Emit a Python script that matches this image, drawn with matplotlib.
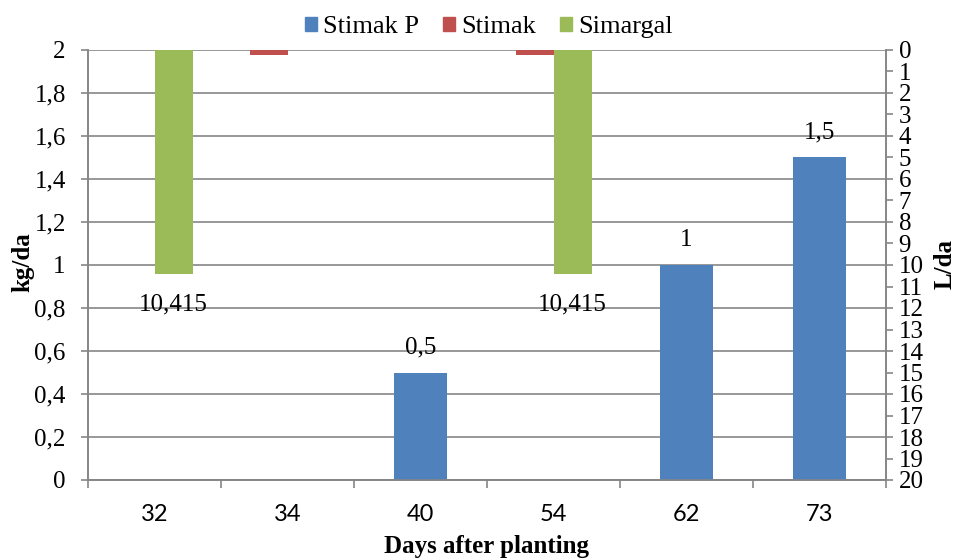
import numpy as np
import matplotlib
matplotlib.use("Agg")
import matplotlib.pyplot as plt
from matplotlib.patches import Patch

# data
days = ["32", "34", "40", "54", "62", "73"]
stimak_p = [0, 0, 0.5, 0, 1, 1.5]          # kg/da, left axis
stimak = [0, 0.25, 0, 0.25, 0, 0]          # L/da, right axis (inverted)
simargal = [10.415, 0, 0, 10.415, 0, 0]    # L/da, right axis (inverted)

stimak_p_labels = ["", "", "0,5", "", "1", "1,5"]
simargal_labels = ["10,415", "", "", "10,415", "", ""]

left_ticks = [0, 0.2, 0.4, 0.6, 0.8, 1, 1.2, 1.4, 1.6, 1.8, 2]
left_tick_labels = ["0", "0,2", "0,4", "0,6", "0,8", "1", "1,2", "1,4", "1,6", "1,8", "2"]
right_ticks = list(range(0, 21))

blue = "#4F81BD"
red = "#C0504D"
green = "#9BBB59"
grey = "#868686"

plt.rcParams["font.family"] = ["Liberation Serif", "DejaVu Serif"]
plt.rcParams["font.size"] = 18

W, H = 957, 559
fig = plt.figure(figsize=(W / 100, H / 100), dpi=100)
ax = fig.add_axes([88 / W, 1 - 480 / H, 798 / W, 430 / H])
ax2 = ax.twinx()

x = np.arange(len(days))

# primary axis: one series, gap width 150%
w1 = 1 / 2.5
b_p = ax.bar(x, stimak_p, width=w1, color=blue, zorder=3)

# secondary axis: two clustered series
w2 = 1 / 3.5
b_s = ax2.bar(x - w2 / 2, stimak, width=w2, color=red, zorder=3)
b_g = ax2.bar(x + w2 / 2, simargal, width=w2, color=green, zorder=3)

ax.set_xlim(-0.5, len(days) - 0.5)
ax.set_ylim(0, 2)
ax2.set_ylim(20, 0)

ax.set_yticks(left_ticks)
ax.set_yticklabels(left_tick_labels)
ax.yaxis.grid(True, color=grey, linewidth=1.2, zorder=0)
ax.set_axisbelow(True)

ax2.set_yticks(right_ticks)
ax2.set_yticklabels([str(t) for t in right_ticks])

ax.set_xticks(x)
ax.set_xticklabels(days, fontfamily="Lato", fontsize=17)
ax.set_xticks(np.arange(-0.5, len(days)), minor=True)
ax.tick_params(axis="x", which="major", length=0, pad=17)
ax.tick_params(axis="x", which="minor", length=6, color=grey, width=1.2)
ax.tick_params(axis="y", length=5, color=grey, width=1.2, pad=11)
ax2.tick_params(axis="y", length=5, color=grey, width=1.2, pad=4)

for a in (ax, ax2):
    a.spines["top"].set_visible(False)
    for s in ("left", "right", "bottom"):
        a.spines[s].set_color(grey)
        a.spines[s].set_linewidth(1.2)

ax.bar_label(b_p, labels=stimak_p_labels, padding=10)
ax2.bar_label(b_g, labels=simargal_labels, padding=14)

# axis titles
fig.text(23 / W, 1 - 262 / H, "kg/da", rotation=90, ha="center", va="center", fontweight="bold")
fig.text(945 / W, 1 - 264 / H, "L/da", rotation=90, ha="center", va="center", fontweight="bold")
fig.text(487 / W, 1 - 553 / H, "Days after planting", ha="center", va="baseline", fontweight="bold")

handles = [Patch(color=blue), Patch(color=red), Patch(color=green)]
fig.legend(handles, ["Stimak P", "Stimak", "Simargal"], loc="center",
           bbox_to_anchor=(489 / W, 1 - 27 / H), ncol=3, frameon=False,
           fontsize=19, handlelength=0.45, handleheight=0.45,
           handletextpad=0.25, columnspacing=0.9, borderpad=0)

fig.savefig("out.png", dpi=100)
